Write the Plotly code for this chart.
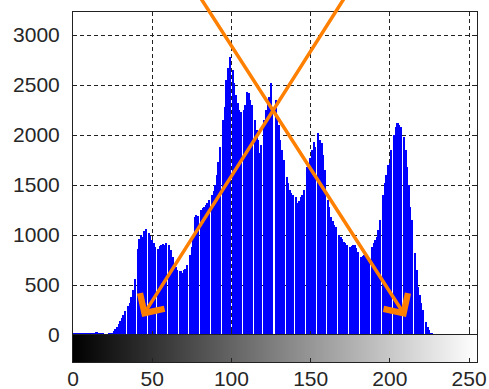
import plotly.graph_objects as go

# ---- data (gray-level histogram, 256 bins) ----
bins = list(range(256))
counts = [
    15, 20, 20, 18, 20, 15, 15, 15, 20, 20, 25, 25, 20, 20, 25, 30,
    25, 20, 15, 15, 10, 10, 10, 15, 20, 25, 40, 60, 80, 110, 140, 170,
    200, 240, 0, 290, 320, 380, 450, 560, 0, 860, 960, 1000, 980, 1040, 1060, 0,
    1020, 990, 950, 920, 880, 0, 860, 890, 900, 910, 900, 920, 0, 900, 850, 780,
    700, 680, 650, 0, 640, 620, 650, 660, 700, 0, 800, 880, 1000, 1180, 1200, 1190,
    0, 1250, 1270, 1280, 1300, 1320, 1350, 0, 1400, 1440, 1500, 1600, 1730, 1880, 0, 2150,
    2280, 2550, 2670, 2780, 0, 2650, 2520, 2400, 2320, 2250, 2230, 0, 2250, 2300, 2430, 2420,
    2350, 2300, 0, 2150, 2050, 1950, 1820, 1900, 0, 2150, 2250, 2320, 2380, 2520, 2280, 0,
    2350, 2180, 2100, 1950, 1850, 1750, 0, 1580, 1520, 1450, 1420, 1400, 0, 1380, 1320, 1340,
    1380, 1400, 1450, 0, 1680, 1720, 1770, 1850, 1930, 1880, 0, 2020, 1950, 1920, 1800, 1650,
    0, 1350, 1280, 1180, 1140, 1100, 1080, 0, 1000, 980, 960, 930, 920, 900, 0, 880,
    890, 900, 900, 870, 830, 0, 780, 790, 800, 820, 790, 750, 0, 880, 920, 950,
    980, 1050, 1150, 0, 1400, 1520, 1600, 1700, 1720, 1850, 0, 2000, 2080, 2120, 2100, 2080,
    0, 1980, 1850, 1680, 1500, 1280, 1150, 0, 820, 650, 480, 400, 320, 250, 0, 130,
    80, 50, 20, 15, 10, 10, 10, 10, 10, 10, 10, 10, 10, 10, 10, 10,
    10, 10, 10, 10, 10, 10, 10, 10, 10, 10, 10, 10, 10, 10, 10, 10,
]
x_ticks = [0, 50, 100, 150, 200, 250]
y_ticks = [0, 500, 1000, 1500, 2000, 2500, 3000]

# orange arrows (tail -> head), in data units
arrow_tails = [(77.3, 3450), (174.5, 3450)]
arrow_heads = [(210.2, 180), (43.6, 180)]

font = dict(family="Liberation Sans, Arial, sans-serif", size=21, color="#262626")
grid = dict(showgrid=True, gridcolor="#222222", gridwidth=1, griddash="4px,3px")

fig = go.Figure()
fig.add_trace(go.Bar(
    x=bins, y=counts, width=1,
    marker=dict(color="#0000ff", line=dict(width=0)),
    xaxis="x", yaxis="y", hoverinfo="skip",
))
fig.add_trace(go.Heatmap(
    x=bins, y=[0], z=[bins],
    colorscale=[[0, "#000000"], [1, "#ffffff"]], showscale=False,
    xaxis="x2", yaxis="y2", hoverinfo="skip",
))

for (tx, ty), (hx, hy) in zip(arrow_tails, arrow_heads):
    fig.add_annotation(
        x=hx, y=hy, ax=tx, ay=ty, xref="x", yref="y", axref="x", ayref="y",
        text="", showarrow=True, arrowhead=4, arrowsize=1.6,
        arrowwidth=3.5, arrowcolor="#ff8000",
    )

split = 27 / 350
fig.update_layout(
    width=489, height=389,
    margin=dict(l=73, r=12, t=12, b=27, autoexpand=False),
    paper_bgcolor="white", plot_bgcolor="white",
    showlegend=False, bargap=0, font=font,
    xaxis=dict(domain=[0, 1], range=[0, 255], anchor="y", automargin=False,
               tickvals=x_ticks, showticklabels=False,
               ticks="inside", ticklen=4, tickcolor="#222",
               showline=True, linecolor="#222", linewidth=1, mirror="ticks",
               zeroline=False, **grid),
    yaxis=dict(domain=[split, 1], range=[0, 3230], anchor="x", automargin=False,
               tickvals=y_ticks, ticks="inside", ticklen=4, tickcolor="#222",
               showline=True, linecolor="#222", linewidth=1, mirror="ticks",
               zeroline=False, ticklabelstandoff=8, **grid),
    xaxis2=dict(domain=[0, 1], range=[0, 255], anchor="y2", automargin=False,
                tickvals=x_ticks, ticks="inside", ticklen=4, tickcolor="#222",
                showline=True, linecolor="#222", linewidth=1, mirror=True,
                zeroline=False, showgrid=False, ticklabelstandoff=-2),
    yaxis2=dict(domain=[0, split], range=[-0.5, 0.5], anchor="x2", automargin=False,
                showticklabels=False, ticks="", showline=True,
                linecolor="#222", linewidth=1, mirror=True,
                zeroline=False, showgrid=False),
)

fig.write_html("out.html")
